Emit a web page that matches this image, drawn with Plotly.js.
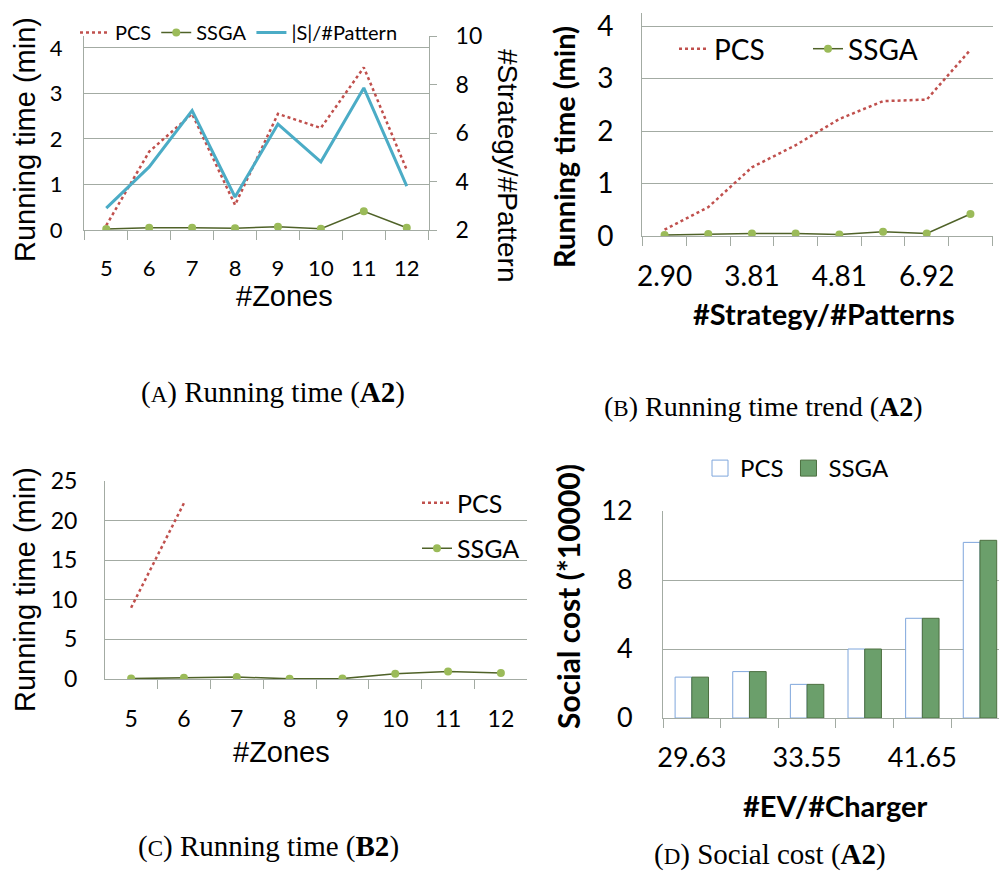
<!DOCTYPE html>
<html><head><meta charset="utf-8">
<script src="https://cdn.plot.ly/plotly-3.0.1.min.js"></script>
<style>html,body{margin:0;padding:0;overflow:hidden;background:#fff}</style>
</head><body><div id="chart" style="width:999px;height:876px"></div>
<script>
// ---- data ----
const zones = ['5','6','7','8','9','10','11','12'];
const pcsA = [0.1, 1.72, 2.55, 0.55, 2.55, 2.24, 3.57, 1.32];
const ssgaA = [0.02, 0.05, 0.05, 0.04, 0.07, 0.03, 0.41, 0.05];
const ratioA = [2.90, 4.60, 6.92, 3.36, 6.37, 4.81, 7.86, 3.81];

const ratioCatsB = ['2.90','3.36','3.81','4.60','4.81','6.37','6.92','7.86'];
const ratioLabelsB = ['2.90','','3.81','','4.81','','6.92',''];
const pcsB = [0.12, 0.55, 1.31, 1.73, 2.23, 2.57, 2.6, 3.55];
const ssgaB = [0.02, 0.04, 0.05, 0.05, 0.03, 0.08, 0.05, 0.42];

const pcsC = [9.0, 22.2, null, null, null, null, null, null];
const ssgaC = [0.05, 0.15, 0.25, 0.03, 0.05, 0.65, 0.95, 0.75];

const evIdx = [0,1,2,3,4,5];
const evLabels = ['29.63','','33.55','','41.65',''];
const pcsD = [2.37, 2.69, 1.95, 4.0, 5.78, 10.18];
const ssgaD = [2.37, 2.69, 1.95, 4.0, 5.78, 10.3];

// ---- styles ----
const px = v => v / 999;
const py = v => 1 - v / 876;
const RED = '#c0504d', DKG = '#4f6228', LTG = '#9bbb59', CYAN = '#4bacc6';
const GRID = '#a3aba3';
const TICK = 'Lato, sans-serif';
const ARIAL = '"Liberation Sans", Arial, sans-serif';
const SERIF = '"Liberation Serif", "Times New Roman", serif';
const pcsLine = {color: RED, dash: 'dot', width: 2.5};
const ssgaLine = {color: DKG, width: 1.5};
const ssgaMarker = {color: LTG, size: 8};
const pcsBar = {color: '#ffffff', line: {color: '#7fa6dc', width: 1}};
const ssgaBar = {color: '#6b9f6b', line: {color: '#4d7040', width: 1}};

const traces = [
  {x: zones, y: pcsA, name: 'PCS', mode: 'lines', line: pcsLine, xaxis: 'x', yaxis: 'y', legend: 'legend'},
  {x: zones, y: ssgaA, name: 'SSGA', mode: 'lines+markers', line: ssgaLine, marker: ssgaMarker, xaxis: 'x', yaxis: 'y', legend: 'legend'},
  {x: zones, y: ratioA, name: '|S|/#Pattern', mode: 'lines', line: {color: CYAN, width: 3}, xaxis: 'x', yaxis: 'y2', legend: 'legend'},

  {x: ratioCatsB, y: pcsB, name: 'PCS', mode: 'lines', line: pcsLine, xaxis: 'x2', yaxis: 'y3', legend: 'legend2'},
  {x: ratioCatsB, y: ssgaB, name: 'SSGA', mode: 'lines+markers', line: ssgaLine, marker: ssgaMarker, xaxis: 'x2', yaxis: 'y3', legend: 'legend2'},

  {x: zones, y: pcsC, name: 'PCS', mode: 'lines', line: pcsLine, xaxis: 'x3', yaxis: 'y4', legend: 'legend3', legendgroup: 'c1'},
  {x: zones, y: ssgaC, name: 'SSGA', mode: 'lines+markers', line: ssgaLine, marker: ssgaMarker, xaxis: 'x3', yaxis: 'y4', legend: 'legend3', legendgroup: 'c2'},

  {x: evIdx, y: pcsD, name: 'PCS', type: 'bar', marker: pcsBar, xaxis: 'x4', yaxis: 'y5', showlegend: false},
  {x: evIdx, y: ssgaD, name: 'SSGA', type: 'bar', marker: ssgaBar, xaxis: 'x4', yaxis: 'y5', showlegend: false},
  // legend swatches for panel D (bigger square keys, as in the original)
  {x: [null], y: [null], name: 'PCS', mode: 'markers', marker: Object.assign({symbol: 'square', size: 18}, pcsBar), xaxis: 'x4', yaxis: 'y5', legend: 'legend4'},
  {x: [null], y: [null], name: 'SSGA', mode: 'markers', marker: Object.assign({symbol: 'square', size: 18}, ssgaBar), xaxis: 'x4', yaxis: 'y5', legend: 'legend4'}
];

function xcat(domain, anchor, size, standoff, extra) {
  return Object.assign({
    domain: domain, anchor: anchor, type: 'category', tickson: 'boundaries',
    ticks: 'outside', ticklen: 9, tickcolor: GRID, tickwidth: 1, tickangle: 0,
    ticklabelstandoff: standoff, automargin: false,
    showline: true, linecolor: GRID, linewidth: 1, showgrid: false, zeroline: false,
    tickfont: {family: TICK, size: size, color: '#000'}
  }, extra || {});
}
function ylin(domain, anchor, range, tickvals, size, standoff, extra) {
  return Object.assign({
    domain: domain, anchor: anchor, range: range, tickvals: tickvals,
    showgrid: true, gridcolor: GRID, gridwidth: 1, showline: true, linecolor: GRID,
    ticks: '', ticklabelstandoff: standoff, zeroline: false, automargin: false,
    tickfont: {family: TICK, size: size, color: '#000'}
  }, extra || {});
}

function ann(text, x, y, size, family, angle) {
  return {text: text, x: px(x), y: py(y), xref: 'paper', yref: 'paper',
    xanchor: 'center', yanchor: 'middle', showarrow: false, textangle: angle || 0,
    font: {family: family, size: size, color: '#000'}};
}
const BOLD = (s) => '<b>' + s + '</b>';
const sc = (s) => '<span style="font-size:23px">' + s + '</span>';

const layout = {
  width: 999, height: 876, autosize: false,
  margin: {l: 0, r: 0, t: 0, b: 0, pad: 0},
  paper_bgcolor: '#fff', plot_bgcolor: 'rgba(0,0,0,0)',
  showlegend: true,
  barmode: 'group', bargap: 0.42, bargroupgap: 0,
  xaxis: xcat([px(84), px(429)], 'y', 22, 19),
  yaxis: ylin([py(230), py(36)], 'x', [0, 4.26], [0,1,2,3,4], 22, 16),
  yaxis2: {overlaying: 'y', side: 'right', anchor: 'x', range: [2, 10], tickvals: [2,4,6,8,10],
    showgrid: false, showline: true, linecolor: GRID, ticks: 'outside', ticklen: 7, tickcolor: GRID,
    ticklabelstandoff: 14, zeroline: false, automargin: false, tickfont: {family: TICK, size: 23, color: '#000'}},

  xaxis2: xcat([px(642), px(993)], 'y3', 28, 15, {tickvals: ratioCatsB, ticktext: ratioLabelsB, categoryorder: 'array', categoryarray: ratioCatsB}),
  yaxis3: ylin([py(236), py(13)], 'x2', [0, 4.25], [0,1,2,3,4], 28, 22),

  xaxis3: xcat([px(105), px(527)], 'y4', 23, 19),
  yaxis4: ylin([py(679), py(481)], 'x3', [0, 25], [0,5,10,15,20,25], 23, 22),

  xaxis4: xcat([px(663), 1], 'y5', 27, 16, {range: [-0.5, 5.33], tickvals: evIdx, ticktext: evLabels}),
  yaxis5: ylin([py(718), py(511)], 'x4', [0, 12], [0,4,8,12], 27, 24),

  legend: {x: px(75), y: py(13), xanchor: 'left', yanchor: 'top', orientation: 'h',
    font: {family: TICK, size: 20, color: '#000'}, bgcolor: 'rgba(0,0,0,0)', traceorder: 'normal'},
  legend2: {x: px(674), y: py(24), xanchor: 'left', yanchor: 'top', orientation: 'h', entrywidth: 89,
    font: {family: TICK, size: 28, color: '#000'}, bgcolor: 'rgba(0,0,0,0)', traceorder: 'normal'},
  legend3: {x: px(417), y: py(480), xanchor: 'left', yanchor: 'top', orientation: 'v',
    font: {family: TICK, size: 25, color: '#000'}, bgcolor: 'rgba(0,0,0,0)', traceorder: 'grouped', tracegroupgap: 10},
  legend4: {x: px(700), y: py(446), xanchor: 'left', yanchor: 'top', orientation: 'h',
    font: {family: TICK, size: 24, color: '#000'}, bgcolor: 'rgba(0,0,0,0)', traceorder: 'normal'},

  annotations: [
    ann('Running time (min)', 25, 140, 29, ARIAL, -90),
    ann('#Zones', 284, 296, 29, ARIAL),
    ann('#Strategy/#Pattern', 507, 165, 28, ARIAL, 90),

    ann(BOLD('Running time (min)'), 563, 147, 29, TICK, -90),
    ann(BOLD('#Strategy/#Patterns'), 824, 313, 29, TICK),

    ann('Running time (min)', 25, 590, 29, ARIAL, -90),
    ann('#Zones', 281, 752, 29, ARIAL),

    ann(BOLD('Social cost (*10000)'), 568, 597, 30, TICK, -90),
    ann(BOLD('#EV/#Charger'), 835, 805, 29, TICK),

    ann('(' + sc('A') + ') Running time (' + BOLD('A2') + ')', 273, 392, 29, SERIF),
    ann('(' + sc('B') + ') Running time trend (' + BOLD('A2') + ')', 763, 406, 28, SERIF),
    ann('(' + sc('C') + ') Running time (' + BOLD('B2') + ')', 268, 846, 29, SERIF),
    ann('(' + sc('D') + ') Social cost (' + BOLD('A2') + ')', 770, 854, 29, SERIF)
  ]
};

Plotly.newPlot('chart', traces, layout, {displayModeBar: false, staticPlot: true});
</script>
</body></html>
